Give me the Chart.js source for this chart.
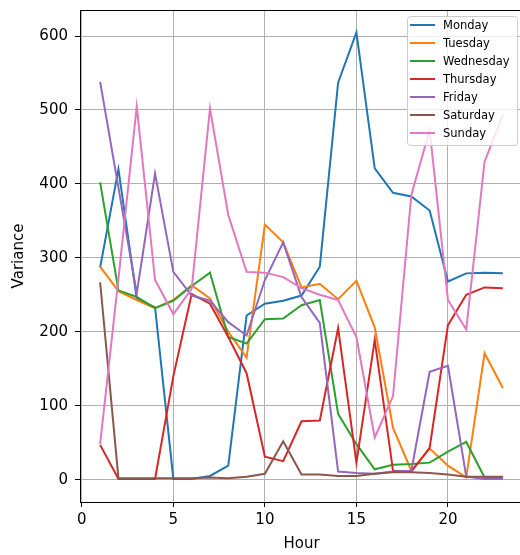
<!DOCTYPE html>
<html>
<head>
<meta charset="utf-8">
<script src="https://cdn.jsdelivr.net/npm/chart.js@4"></script>
<style>
  html, body { margin: 0; padding: 0; background: #fff; }
  #wrap { width: 520px; height: 555px; overflow: hidden; }
</style>
</head>
<body>
<div id="wrap"><canvas id="grafico-variancia" width="540" height="555"></canvas></div>
<script>
const hours = [1, 2, 3, 4, 5, 6, 7, 8, 9, 10, 11, 12, 13, 14, 15, 16, 17, 18, 19, 20, 21, 22, 23];
const dayNames = ["Monday", "Tuesday", "Wednesday", "Thursday", "Friday", "Saturday", "Sunday"];
const dayColors = ["#1f77b4", "#ff7f0e", "#2ca02c", "#d62728", "#9467bd", "#8c564b", "#e377c2"];

const monday = [287, 420, 245, 233, 1, 1, 5, 19, 222, 238, 242, 249, 288, 537, 605, 421, 388, 383, 364, 268, 279, 280, 279];
const tuesday = [288, 255, 243, 232, 243, 263, 245, 200, 165, 345, 321, 260, 265, 244, 269, 206, 70, 12, 42, 19, 3, 171, 124];
const wednesday = [402, 256, 247, 232, 242, 262, 280, 193, 184, 217, 218, 236, 243, 89, 48, 14, 20, 21, 23, 38, 51, 3, 3];
const thursday = [47, 1, 1, 1, 140, 251, 238, 193, 144, 31, 25, 79, 80, 205, 23, 189, 12, 11, 43, 209, 250, 260, 259];
const friday = [538, 395, 252, 414, 281, 249, 242, 213, 195, 270, 321, 247, 212, 11, 9, 8, 11, 12, 146, 154, 4, 1, 1];
const saturday = [267, 2, 2, 2, 2, 2, 3, 2, 4, 8, 52, 7, 7, 5, 5, 8, 10, 10, 9, 7, 4, 4, 4];
const sunday = [48, 272, 505, 270, 224, 258, 502, 358, 281, 280, 274, 259, 250, 243, 193, 57, 113, 385, 473, 243, 203, 430, 493];

const xTicks = [0, 5, 10, 15, 20];
const yTicks = [0, 100, 200, 300, 400, 500, 600];

const series = [monday, tuesday, wednesday, thursday, friday, saturday, sunday];
const FONT = "DejaVu Sans";

// matplotlib-like frame top + legend box inside the axes
const frameLegend = {
  id: "frameLegend",
  afterDraw(chart) {
    const ctx = chart.ctx;
    const a = chart.chartArea;
    ctx.save();
    ctx.strokeStyle = "#000";
    ctx.lineWidth = 1;
    ctx.beginPath();
    ctx.moveTo(a.left, a.top + 0.5);
    ctx.lineTo(a.right, a.top + 0.5);
    ctx.stroke();

    const w = 110, h = 129;
    const x0 = a.right - 6 - w;
    const y0 = a.top + 6;
    ctx.fillStyle = "rgba(255,255,255,0.8)";
    ctx.strokeStyle = "#cccccc";
    ctx.beginPath();
    ctx.roundRect(x0 + 0.5, y0 + 0.5, w, h, 3);
    ctx.fill();
    ctx.stroke();

    ctx.font = "11.5px '" + FONT + "'";
    ctx.textBaseline = "middle";
    chart.data.datasets.forEach((ds, i) => {
      const y = y0 + 9 + i * 18;
      ctx.strokeStyle = ds.borderColor;
      ctx.lineWidth = 2;
      ctx.beginPath();
      ctx.moveTo(x0 + 3, y);
      ctx.lineTo(x0 + 28, y);
      ctx.stroke();
      ctx.fillStyle = "#000";
      ctx.fillText(ds.label, x0 + 36, y + 1);
    });
    ctx.restore();
  },
};

new Chart(document.getElementById("grafico-variancia"), {
  type: "line",
  plugins: [frameLegend],
  data: {
    datasets: series.map((vals, i) => ({
      label: dayNames[i],
      data: vals.map((v, k) => ({ x: hours[k], y: v })),
      borderColor: dayColors[i],
      backgroundColor: dayColors[i],
      borderWidth: 2,
      pointRadius: 0,
      tension: 0,
      fill: false,
      order: series.length - i,
    })),
  },
  options: {
    responsive: false,
    animation: false,
    layout: { padding: { top: 10, right: 17, left: 0, bottom: 0 } },
    plugins: {
      legend: { display: false },
      tooltip: { enabled: false },
    },
    scales: {
      x: {
        type: "linear",
        min: -0.1,
        max: 24.1,
        afterBuildTicks: (s) => { s.ticks = xTicks.map((v) => ({ value: v })); },
        afterFit: (s) => { s.height = 53; s.paddingLeft = 0; s.paddingRight = 0; },
        ticks: {
          color: "#000",
          maxRotation: 0,
          padding: 4,
          font: { family: FONT, size: 15 },
        },
        grid: { color: "#b0b0b0", lineWidth: 1, tickLength: 5, tickColor: "#000" },
        border: { color: "#000", width: 1 },
        title: {
          display: true,
          text: "Hour",
          color: "#000",
          font: { family: FONT, size: 15 },
          padding: { top: 0, bottom: 2 },
        },
      },
      y: {
        min: -30.25,
        max: 635.25,
        afterBuildTicks: (s) => { s.ticks = yTicks.map((v) => ({ value: v })); },
        afterFit: (s) => { s.width = 80; s.paddingTop = 0; s.paddingBottom = 0; },
        ticks: {
          color: "#000",
          padding: 7,
          font: { family: FONT, size: 15 },
        },
        grid: { color: "#b0b0b0", lineWidth: 1, tickLength: 5, tickColor: "#000" },
        border: { color: "#000", width: 1 },
        title: {
          display: true,
          text: "Variance",
          color: "#000",
          font: { family: FONT, size: 15 },
          padding: { top: 10, bottom: 0 },
        },
      },
    },
  },
});
</script>
</body>
</html>
